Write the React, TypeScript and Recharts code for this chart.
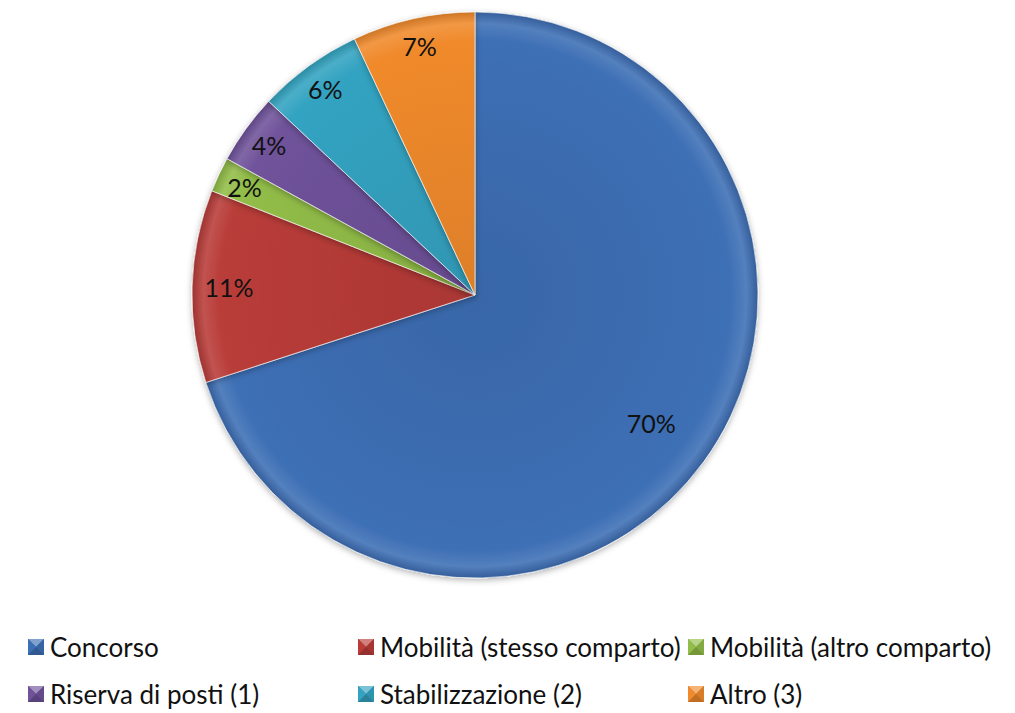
import { Cell, Legend, Pie, PieChart } from "recharts";

const categories = [
  "Concorso",
  "Mobilità (stesso comparto)",
  "Mobilità (altro comparto)",
  "Riserva di posti (1)",
  "Stabilizzazione (2)",
  "Altro (3)",
];
const shares = [70, 11, 2, 4, 6, 7];
const colors = ["#3d6fb5", "#b93c38", "#92bd48", "#6f529a", "#33a3c1", "#f08a2c"];

const rows = categories.map((name, i) => ({ name, value: shares[i] }));

const FONT = "Lato, 'Open Sans', sans-serif";
const RADIAN = Math.PI / 180;

function lighten(hex: string, amt: number) {
  const n = parseInt(hex.slice(1), 16);
  const ch = [(n >> 16) & 255, (n >> 8) & 255, n & 255].map((c) =>
    Math.round(amt >= 0 ? c + (255 - c) * amt : c * (1 + amt)),
  );
  return `rgb(${ch.join(",")})`;
}

function SliceLabel(props: any) {
  const { cx, cy, midAngle, outerRadius, percent } = props;
  // the big slice keeps its label further in, small ones sit near the rim
  const r = outerRadius * (percent > 0.5 ? 0.77 : percent > 0.1 ? 0.87 : 0.9);
  const x = cx + r * Math.cos(-midAngle * RADIAN);
  const y = cy + r * Math.sin(-midAngle * RADIAN);
  return (
    <text
      x={x}
      y={y}
      textAnchor="middle"
      dominantBaseline="central"
      fontFamily={FONT}
      fontSize={25}
      fill="#111"
    >
      {`${Math.round(percent * 100)}%`}
    </text>
  );
}

function Marker({ color }: { color: string }) {
  return (
    <svg width={16} height={16} style={{ marginRight: 6, flex: "none" }}>
      <rect x={0} y={0} width={16} height={16} fill={lighten(color, -0.2)} />
      <polygon points="0,0 16,0 8,8" fill={lighten(color, 0.35)} />
      <polygon points="0,0 8,8 0,16" fill={color} />
      <polygon points="16,0 16,16 8,8" fill={lighten(color, -0.1)} />
    </svg>
  );
}

function LegendGrid() {
  return (
    <div
      style={{
        display: "grid",
        gridTemplateColumns: "330px 330px 330px",
        rowGap: 17,
        fontFamily: FONT,
        fontSize: 26,
        color: "#111",
      }}
    >
      {categories.map((name, i) => (
        <div key={name} style={{ display: "flex", alignItems: "center", height: 30 }}>
          <Marker color={colors[i]} />
          <span style={{ whiteSpace: "nowrap" }}>{name}</span>
        </div>
      ))}
    </div>
  );
}

export default function App() {
  return (
    <div style={{ position: "absolute", left: 0, top: 0, width: 1015, height: 713, background: "#fff" }}>
      <PieChart width={1015} height={713} margin={{ top: 0, right: 0, bottom: 0, left: 0 }}>
        <defs>
          {colors.map((c, i) => (
            <radialGradient
              key={i}
              id={`g${i}`}
              gradientUnits="userSpaceOnUse"
              cx={475}
              cy={295}
              r={283}
            >
              <stop offset="0%" stopColor={lighten(c, -0.08)} />
              <stop offset="90%" stopColor={c} />
              <stop offset="96%" stopColor={lighten(c, 0.12)} />
              <stop offset="100%" stopColor={lighten(c, -0.15)} />
            </radialGradient>
          ))}
          <filter id="shadow" x="-10%" y="-10%" width="120%" height="120%">
            <feDropShadow dx={0} dy={2} stdDeviation={3} floodColor="#000" floodOpacity={0.3} />
          </filter>
        </defs>
        <Pie
          data={rows}
          dataKey="value"
          nameKey="name"
          cx={475}
          cy={295}
          outerRadius={283}
          startAngle={90}
          endAngle={-270}
          label={SliceLabel}
          labelLine={false}
          stroke="rgba(255,255,255,0.6)"
          strokeWidth={1}
          style={{ filter: "url(#shadow)" }}
          isAnimationActive={false}
        >
          {rows.map((r, i) => (
            <Cell key={r.name} fill={`url(#g${i})`} />
          ))}
        </Pie>
        <Legend
          content={<LegendGrid />}
          wrapperStyle={{ left: 28, top: 632, width: 990 }}
        />
      </PieChart>
    </div>
  );
}
